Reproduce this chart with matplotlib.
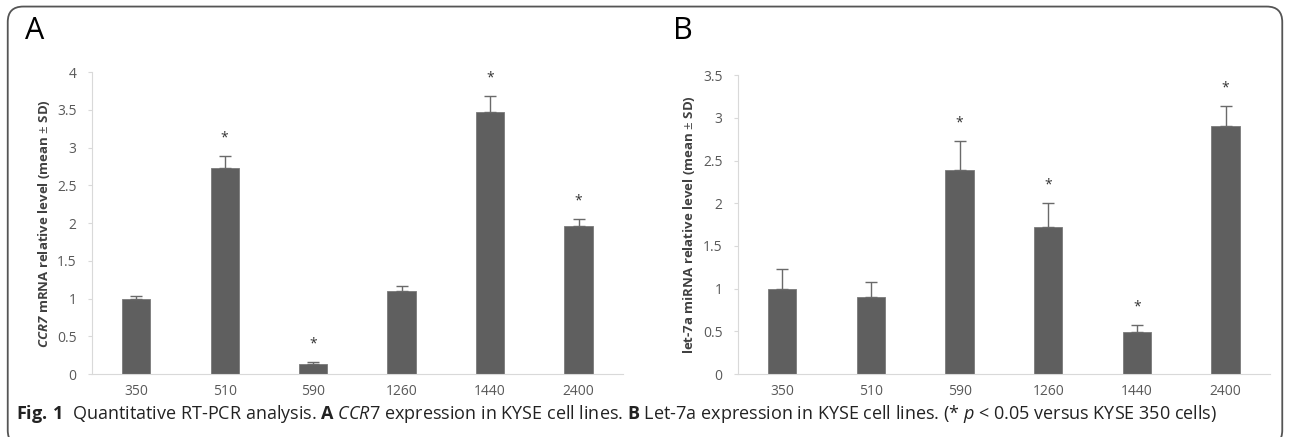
import matplotlib.pyplot as plt
from matplotlib.patches import FancyBboxPatch

cells = ['350', '510', '590', '1260', '1440', '2400']

ccr7_mean = [1.00, 2.73, 0.14, 1.10, 3.47, 1.96]
ccr7_sd = [0.03, 0.16, 0.02, 0.07, 0.21, 0.09]
ccr7_sig = [False, True, True, False, True, True]

let7a_mean = [1.00, 0.90, 2.39, 1.72, 0.49, 2.90]
let7a_sd = [0.23, 0.18, 0.34, 0.28, 0.09, 0.24]
let7a_sig = [False, False, True, True, True, True]

bar_color = '#5f5f5f'
text_gray = '#595959'
axis_gray = '#d9d9d9'

plt.rcParams['font.family'] = ['Open Sans', 'DejaVu Sans']
plt.rcParams['mathtext.fontset'] = 'custom'
plt.rcParams['mathtext.rm'] = 'Open Sans'
plt.rcParams['mathtext.it'] = 'Open Sans:italic'
plt.rcParams['mathtext.bf'] = 'Open Sans:bold'
plt.rcParams['mathtext.bfit'] = 'Open Sans:italic:bold'

fig = plt.figure(figsize=(12.9, 4.37), dpi=100)

# rounded frame round the whole figure
frame = FancyBboxPatch((0.006, -0.02), 0.988, 1.005, boxstyle='round,pad=0,rounding_size=0.012',
                       transform=fig.transFigure, fill=False, edgecolor='#555555', linewidth=1.3,
                       mutation_aspect=1290 / 437)
fig.add_artist(frame)


def draw_panel(rect, means, sds, sig, ymax, step, ylabel, letter, letter_x):
    ax = fig.add_axes(rect)
    x = list(range(len(cells)))
    ax.bar(x, means, width=0.32, color=bar_color, edgecolor='#7a7a7a', linewidth=0.6, zorder=2)
    ax.errorbar(x, means, yerr=[[0] * len(sds), sds], fmt='none', ecolor='#6a6a6a',
                elinewidth=1.0, capsize=4, capthick=1.0, zorder=3)
    for xi, m, s, flag in zip(x, means, sds, sig):
        if flag:
            ax.text(xi, m + s + ymax * 0.035, '*', ha='center', va='bottom', fontsize=10, color='#333333')
    ax.set_xlim(-0.5, len(cells) - 0.5)
    ax.set_ylim(0, ymax)
    ticks = [i * step for i in range(int(round(ymax / step)) + 1)]
    ax.set_yticks(ticks)
    ax.set_yticklabels(['%g' % t for t in ticks])
    ax.set_xticks(x)
    ax.set_xticklabels(cells)
    for side in ['top', 'right']:
        ax.spines[side].set_visible(False)
    ax.spines['left'].set_color(axis_gray)
    ax.spines['bottom'].set_color(axis_gray)
    ax.tick_params(axis='y', colors=text_gray, labelsize=10, length=3, color=axis_gray, pad=8)
    ax.tick_params(axis='x', colors=text_gray, labelsize=10, length=0, pad=7)
    ax.set_ylabel(ylabel, fontsize=9.5, color='#404040', fontweight='bold', labelpad=4)
    fig.text(letter_x, 0.895, letter, fontsize=22, color='black', ha='left', va='bottom')
    return ax


draw_panel([0.0713, 0.144, 0.4115, 0.691], ccr7_mean, ccr7_sd, ccr7_sig, 4, 0.5,
           r'$\mathbfit{CCR7}$ mRNA relative level (mean $\pm$ SD)', 'A', 0.019)
draw_panel([0.572, 0.144, 0.4125, 0.684], let7a_mean, let7a_sd, let7a_sig, 3.5, 0.5,
           r'let-7a miRNA relative level (mean $\pm$ SD)', 'B', 0.522)

fig.text(0.0125, 0.052,
         r'$\bf{Fig.\,1}$  Quantitative RT-PCR analysis. $\bf{A}$ $\it{CCR7}$ expression in KYSE cell lines. '
         r'$\bf{B}$ Let-7a expression in KYSE cell lines. (* $\it{p}$ < 0.05 versus KYSE 350 cells)',
         fontsize=13, color='#222222', ha='left', va='center')

fig.savefig('out.png', dpi=100)
